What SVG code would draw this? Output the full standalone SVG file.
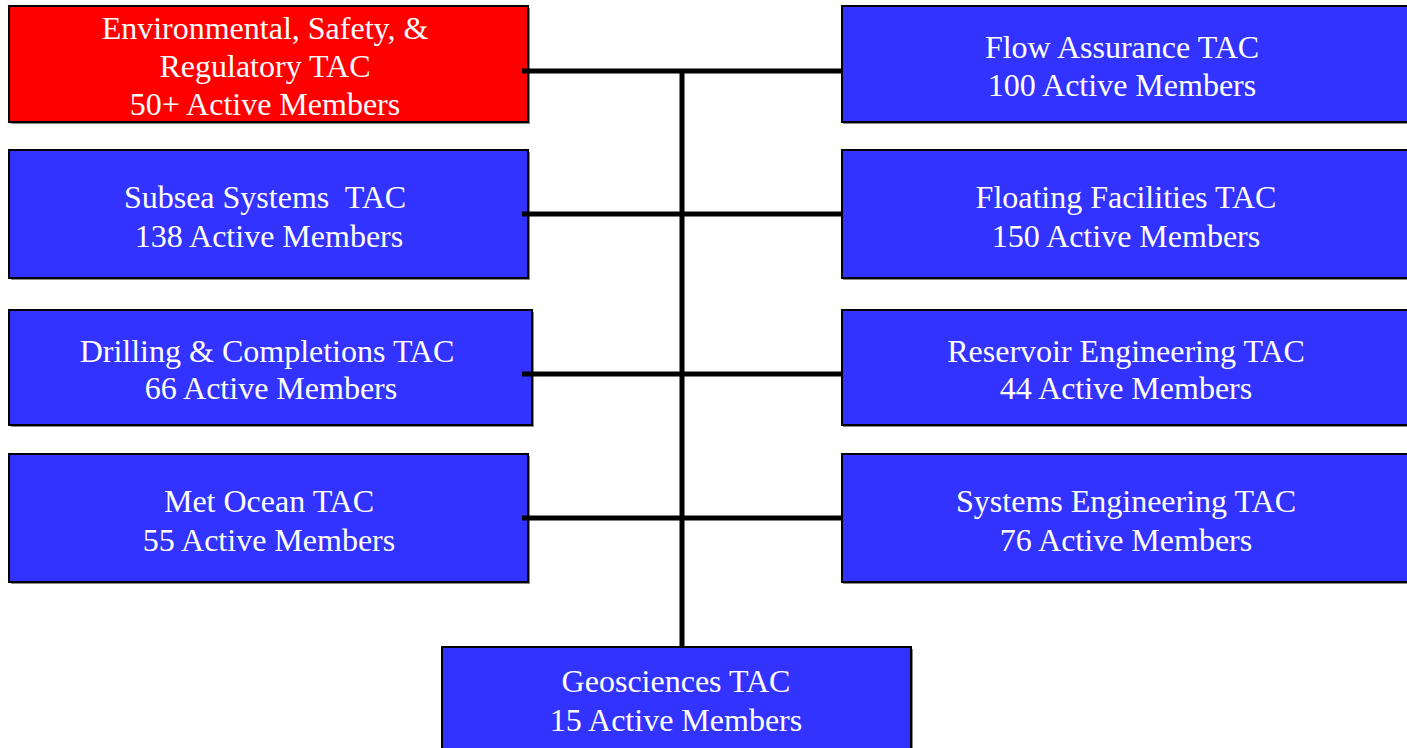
<svg xmlns="http://www.w3.org/2000/svg" width="1407" height="748" viewBox="0 0 1407 748">
  <style>
    .box { stroke: #000; stroke-width: 2; }
    .blue { fill: #3333FF; }
    .red { fill: #FF0000; }
    .shadow { fill: #8a8a8a; }
    .lbl { font-family: "Liberation Serif", "Times New Roman", serif; font-size: 32px; fill: #fff; text-anchor: middle; white-space: pre; }
    .conn { stroke: #000; stroke-width: 5; fill: none; }
  </style>
  <rect width="1407" height="748" fill="#fff"/>

  <g id="esr-tac">
    <rect class="shadow" x="11" y="8" width="519" height="116"/>
    <rect class="box red" x="9" y="6" width="519" height="116"/>
    <text class="lbl" x="265" y="39">Environmental, Safety, &amp;</text>
    <text class="lbl" x="265" y="77">Regulatory TAC</text>
    <text class="lbl" x="265" y="115">50+ Active Members</text>
  </g>

  <g id="flow-assurance-tac">
    <rect class="shadow" x="843" y="8" width="580" height="116"/>
    <rect class="box blue" x="842" y="6" width="580" height="116"/>
    <text class="lbl" x="1122" y="58">Flow Assurance TAC</text>
    <text class="lbl" x="1122" y="96">100 Active Members</text>
  </g>

  <g id="subsea-tac">
    <rect class="shadow" x="11" y="152" width="519" height="128"/>
    <rect class="box blue" x="9" y="150" width="519" height="128"/>
    <text class="lbl" x="265" y="208">Subsea Systems  TAC</text>
    <text class="lbl" x="269" y="247">138 Active Members</text>
  </g>

  <g id="floating-tac">
    <rect class="shadow" x="843" y="152" width="580" height="128"/>
    <rect class="box blue" x="842" y="150" width="580" height="128"/>
    <text class="lbl" x="1126" y="208">Floating Facilities TAC</text>
    <text class="lbl" x="1126" y="247">150 Active Members</text>
  </g>

  <g id="drilling-tac">
    <rect class="shadow" x="11" y="312" width="523" height="115"/>
    <rect class="box blue" x="9" y="310" width="523" height="115"/>
    <text class="lbl" x="267" y="362">Drilling &amp; Completions TAC</text>
    <text class="lbl" x="271" y="399">66 Active Members</text>
  </g>

  <g id="reservoir-tac">
    <rect class="shadow" x="843" y="312" width="580" height="115"/>
    <rect class="box blue" x="842" y="310" width="580" height="115"/>
    <text class="lbl" x="1126" y="362">Reservoir Engineering TAC</text>
    <text class="lbl" x="1126" y="399">44 Active Members</text>
  </g>

  <g id="metocean-tac">
    <rect class="shadow" x="11" y="456" width="519" height="128"/>
    <rect class="box blue" x="9" y="454" width="519" height="128"/>
    <text class="lbl" x="269" y="512">Met Ocean TAC</text>
    <text class="lbl" x="269" y="551">55 Active Members</text>
  </g>

  <g id="systems-tac">
    <rect class="shadow" x="843" y="456" width="580" height="128"/>
    <rect class="box blue" x="842" y="454" width="580" height="128"/>
    <text class="lbl" x="1126" y="512">Systems Engineering TAC</text>
    <text class="lbl" x="1126" y="551">76 Active Members</text>
  </g>

  <g id="geosciences-tac">
    <rect class="shadow" x="443" y="649" width="470" height="110"/>
    <rect class="box blue" x="442" y="647" width="469" height="110"/>
    <text class="lbl" x="676" y="692">Geosciences TAC</text>
    <text class="lbl" x="676" y="731">15 Active Members</text>
  </g>

  <g id="connectors">
    <line class="conn" x1="682" y1="70" x2="682" y2="646"/>
    <line class="conn" x1="522" y1="71" x2="842" y2="71"/>
    <line class="conn" x1="522" y1="214" x2="842" y2="214"/>
    <line class="conn" x1="522" y1="374" x2="842" y2="374"/>
    <line class="conn" x1="522" y1="518" x2="842" y2="518"/>
  </g>
</svg>
